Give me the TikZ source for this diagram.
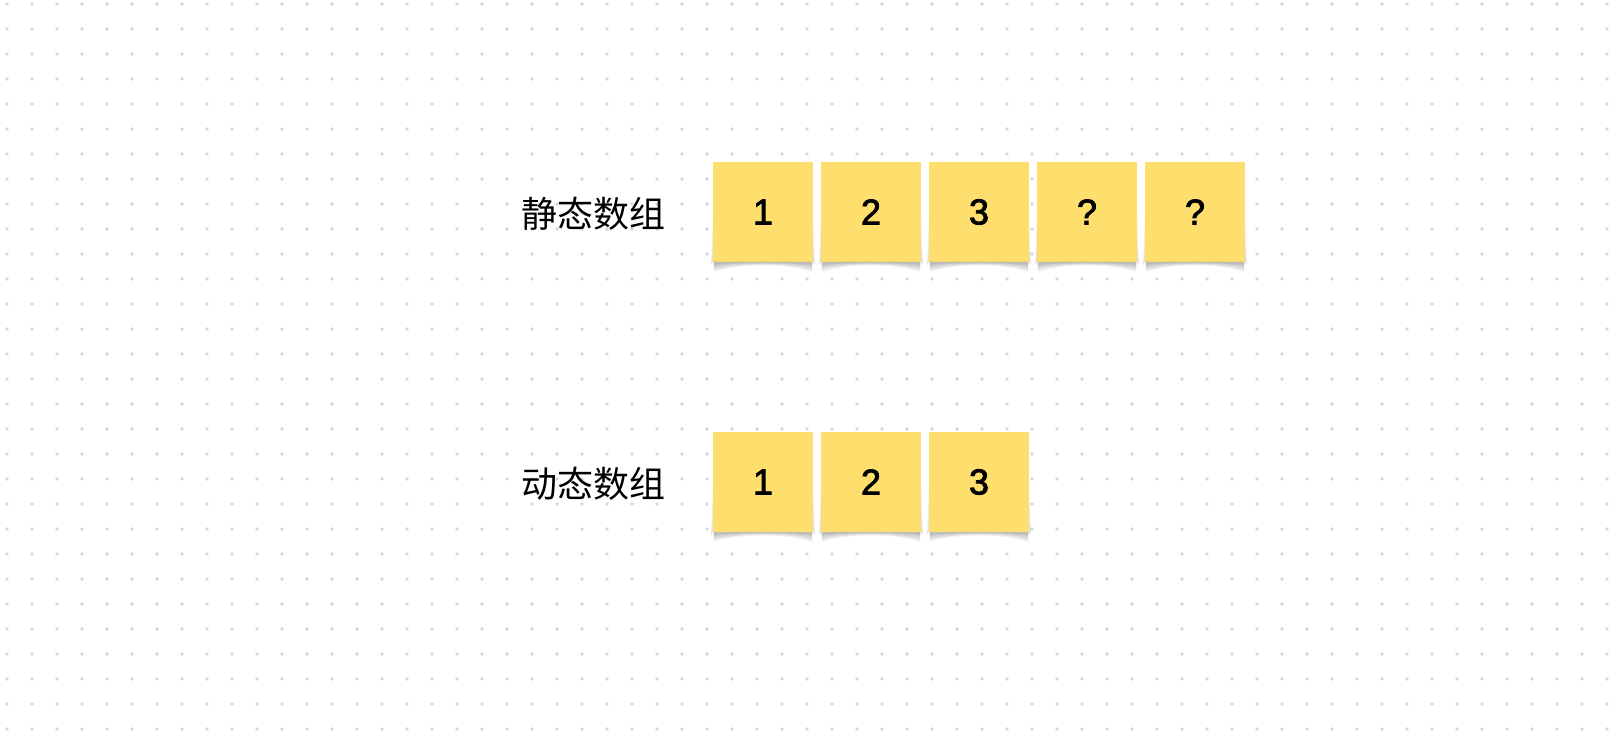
\documentclass[tikz,border=0pt]{standalone}
\usepackage{fontspec}
\setmainfont{Liberation Sans}
\newfontfamily\cjk{Noto Sans CJK SC}
\newfontfamily\notefont{Liberation Sans}
\usetikzlibrary{positioning}

\definecolor{noteyellow}{RGB}{254,223,110}
\definecolor{dotgray}{RGB}{214,214,214}

% slightly heavier digits (fill and stroke the glyphs)
\newcommand\heavy[1]{\special{pdf:code 2 Tr 0.8 w 0 G}#1\special{pdf:code 0 Tr}}

\tikzset{
  griddot/.style={fill=dotgray},
  note/.style={fill=noteyellow, minimum size=100pt, inner sep=0pt, outer sep=0pt,
    font=\notefont\fontsize{36}{36}\selectfont},
  arrlabel/.style={inner sep=0pt, font=\cjk\fontsize{36}{36}\selectfont},
}

% curled shadow under a sticky note
\newcommand\notecurl[1]{%
  \foreach \d in {10, 8, 6, 4, 3}{
    \fill[black, opacity=0.06] ([xshift=0.5pt]#1.south west)
      -- ([xshift=1pt, yshift=-\d pt]#1.south west)
      .. controls ([xshift=-25pt, yshift=-0.1*\d pt]#1.south) and ([xshift=25pt, yshift=-0.1*\d pt]#1.south) ..
      ([xshift=-1pt, yshift=-\d pt]#1.south east)
      -- ([xshift=-0.5pt]#1.south east) -- cycle;
  }%
  \foreach \h in {50, 30, 15}{
    \fill[black, opacity=0.04] ([yshift=\h pt]#1.south west) -- ([xshift=-2pt, yshift=-3pt]#1.south west) -- (#1.south west) -- cycle;
    \fill[black, opacity=0.04] ([yshift=\h pt]#1.south east) -- ([xshift=2pt, yshift=-3pt]#1.south east) -- (#1.south east) -- cycle;
  }%
}

\begin{document}
\begin{tikzpicture}[x=1pt, y=-1pt]
  \useasboundingbox (0, 0) rectangle (1620, 746);

  % dot grid
  \foreach \i in {0,...,64}
    \foreach \j in {0,...,29}
      \fill[griddot] (7+25*\i, 4+25*\j) circle (1.8pt);

  % static array
  \node[note] (s1) at (763, 212) {\heavy{1}};
  \node[note, right=8pt of s1] (s2) {\heavy{2}};
  \node[note, right=8pt of s2] (s3) {\heavy{3}};
  \node[note, right=8pt of s3] (s4) {\heavy{?}};
  \node[note, right=8pt of s4] (s5) {\heavy{?}};
  \node[arrlabel, left=47pt of s1, yshift=-2pt] (lstatic) {静态数组};
  \notecurl{s1}
  \notecurl{s2}
  \notecurl{s3}
  \notecurl{s4}
  \notecurl{s5}

  % dynamic array
  \node[note] (d1) at (763, 482) {\heavy{1}};
  \node[note, right=8pt of d1] (d2) {\heavy{2}};
  \node[note, right=8pt of d2] (d3) {\heavy{3}};
  \node[arrlabel, left=47pt of d1, yshift=-2pt] (ldynamic) {动态数组};
  \notecurl{d1}
  \notecurl{d2}
  \notecurl{d3}
\end{tikzpicture}
\end{document}
